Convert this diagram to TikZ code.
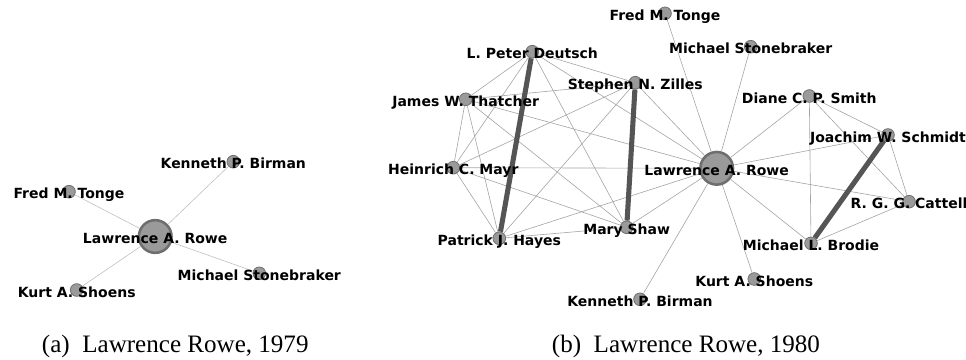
\documentclass[tikz,border=0pt]{standalone}
\usepackage{fontspec}
\newfontfamily\whofont{DejaVu Sans}
\newfontfamily\capfont{Liberation Serif}

\definecolor{nodegray}{HTML}{9A9A9A}
\definecolor{rimgray}{HTML}{6E6E6E}
\definecolor{edgegray}{HTML}{A4A4A4}
\definecolor{paleedge}{HTML}{C0C0C0}
\definecolor{heavygray}{HTML}{555555}

\tikzset{
  author/.style={circle, fill=nodegray, draw=rimgray, line width=0.6pt, inner sep=0pt, minimum size=9.5pt},
  hub/.style={author, line width=1.9pt, minimum size=24.5pt},
  who/.style={font=\whofont\bfseries\fontsize{10.5}{12}\selectfont, anchor=base, inner sep=0pt, yshift=-5.3pt},
  link/.style={draw=edgegray, line width=0.45pt},
  heavylink/.style={draw=heavygray, line width=3.8pt},
  subcap/.style={font=\capfont\fontsize{18.8}{22}\selectfont, anchor=base west, inner sep=0pt}
}

\begin{document}
\begin{tikzpicture}[x=0.75pt, y=-0.75pt]
    \useasboundingbox (0,0) rectangle (966,360);

    % (a) Rowe, 1979
    \node[hub] (a-rowe) at (155.2,236.5) {};
    \node[author] (a-birman) at (233.3,161.7) {};
    \node[author] (a-tonge) at (69,191.7) {};
    \node[author] (a-stone) at (259.3,273.3) {};
    \node[author] (a-shoens) at (76.7,290) {};

    \foreach \n in {a-birman,a-tonge,a-stone,a-shoens}
        \draw[link, draw=paleedge] (a-rowe) -- (\n);

    \node[who] (a-rowe-t) at (a-rowe) {Lawrence A. Rowe};
    \node[who] (a-birman-t) at (a-birman) {Kenneth P. Birman};
    \node[who] (a-tonge-t) at (a-tonge) {Fred M. Tonge};
    \node[who] (a-stone-t) at (a-stone) {Michael Stonebraker};
    \node[who] (a-shoens-t) at (a-shoens) {Kurt A. Shoens};

    % (b) Rowe, 1980
    \node[hub] (rowe) at (716.7,168.3) {};
    \node[author] (tonge) at (665,13.3) {};
    \node[author] (stone) at (750.7,46.7) {};
    \node[author] (deutsch) at (532.3,51.7) {};
    \node[author] (zilles) at (635.3,82.7) {};
    \node[author] (thatcher) at (465.7,99.3) {};
    \node[author] (mayr) at (453.3,167.7) {};
    \node[author] (shaw) at (626.7,227.3) {};
    \node[author] (hayes) at (499.3,238.3) {};
    \node[author] (birman) at (640,299.3) {};
    \node[author] (smith) at (809.3,96) {};
    \node[author] (schmidt) at (888,135) {};
    \node[author] (cattell) at (909,201.7) {};
    \node[author] (brodie) at (811,243.3) {};
    \node[author] (shoens) at (754.3,279) {};

    % Rowe's coauthors
    \foreach \n in {tonge,stone,deutsch,zilles,thatcher,mayr,shaw,hayes,birman,smith,schmidt,cattell,brodie,shoens}
        \draw[link] (rowe) -- (\n);

    % the two groups among themselves
    \foreach \a/\b in {deutsch/zilles, deutsch/thatcher, deutsch/mayr, deutsch/shaw,
                       zilles/thatcher, zilles/mayr, zilles/hayes,
                       thatcher/mayr, thatcher/shaw, thatcher/hayes,
                       mayr/shaw, mayr/hayes, shaw/hayes,
                       smith/schmidt, smith/cattell, smith/brodie,
                       schmidt/cattell, cattell/brodie}
        \draw[link] (\a) -- (\b);

    % repeated coauthorship
    \draw[heavylink] (deutsch) -- (hayes);
    \draw[heavylink] (zilles) -- (shaw);
    \draw[heavylink] (schmidt) -- (brodie);

    \node[who] (rowe-t) at (rowe) {Lawrence A. Rowe};
    \node[who] (tonge-t) at (tonge) {Fred M. Tonge};
    \node[who] (stone-t) at (stone) {Michael Stonebraker};
    \node[who] (deutsch-t) at (deutsch) {L. Peter Deutsch};
    \node[who] (zilles-t) at (zilles) {Stephen N. Zilles};
    \node[who] (thatcher-t) at (thatcher) {James W. Thatcher};
    \node[who] (mayr-t) at (mayr) {Heinrich C. Mayr};
    \node[who] (shaw-t) at (shaw) {Mary Shaw};
    \node[who] (hayes-t) at (hayes) {Patrick J. Hayes};
    \node[who] (birman-t) at (birman) {Kenneth P. Birman};
    \node[who] (smith-t) at (smith) {Diane C. P. Smith};
    \node[who] (schmidt-t) at (schmidt) {Joachim W. Schmidt};
    \node[who] (cattell-t) at (cattell) {R. G. G. Cattell};
    \node[who] (brodie-t) at (brodie) {Michael L. Brodie};
    \node[who] (shoens-t) at (shoens) {Kurt A. Shoens};

    % captions
    \node[subcap] (cap-a) at (41.7,352.3) {(a)\hspace{0.5em}Lawrence Rowe, 1979};
    \node[subcap] (cap-b) at (551.7,352.3) {(b)\hspace{0.5em}Lawrence Rowe, 1980};
\end{tikzpicture}
\end{document}
